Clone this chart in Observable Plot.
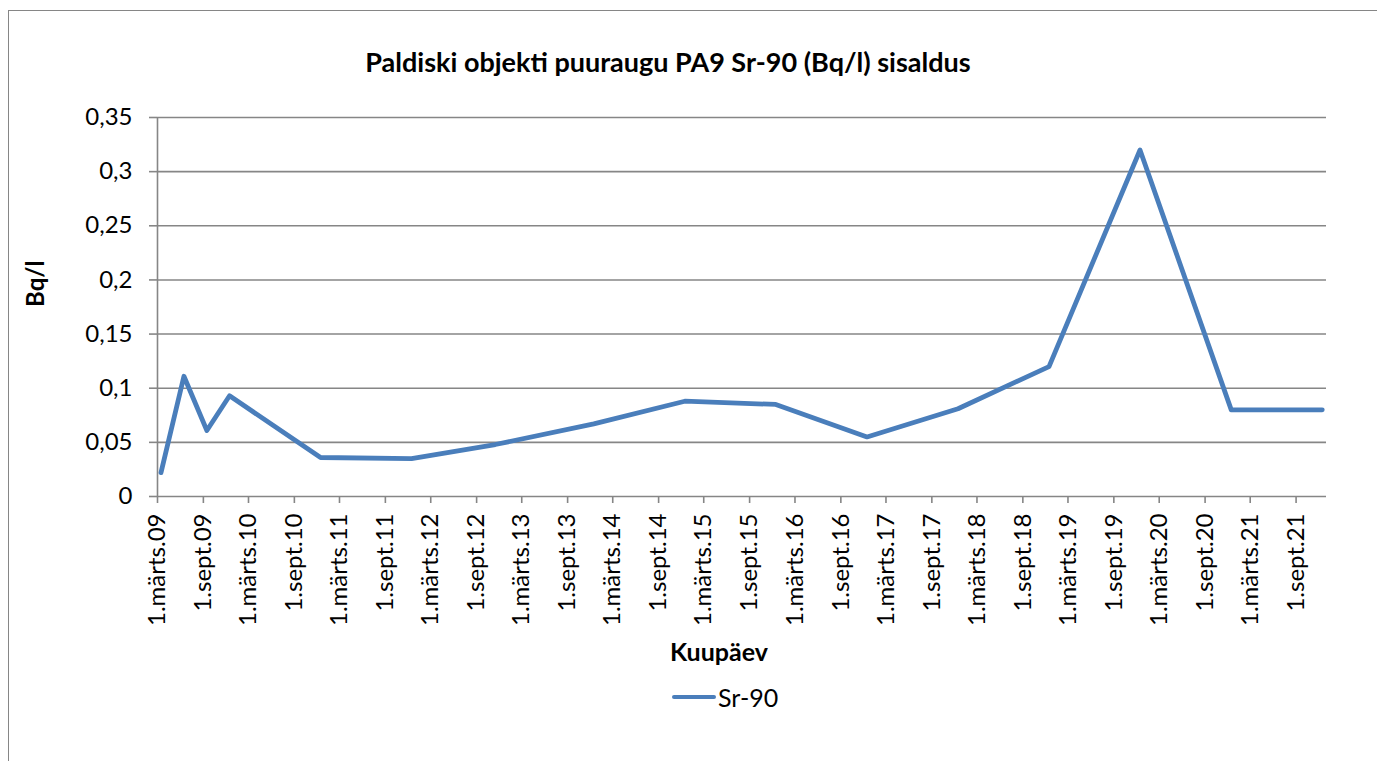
<!DOCTYPE html>
<html>
<head>
<meta charset="utf-8">
<script src="https://cdn.jsdelivr.net/npm/d3@7"></script>
<script src="https://cdn.jsdelivr.net/npm/@observablehq/plot@0.6"></script>
<style>
  html, body { margin: 0; padding: 0; background: #fff; }
  #wrap { position: relative; width: 1377px; height: 761px; overflow: hidden; font-family: Lato, "Open Sans", sans-serif; }
  #border { position: absolute; left: 8px; top: 10px; width: 1500px; height: 900px; border-left: 1.5px solid #868686; border-top: 1.5px solid #868686; }
  #chart { position: absolute; left: 0; top: 0; }
  #title { position: absolute; left: 0; width: 1336px; top: 45px; text-align: center; font-weight: bold; font-size: 27px; color: #000; }
  #legend { position: absolute; left: 672px; top: 682px; display: flex; align-items: center; font-size: 25px; color: #000; }
  #legend .sw { width: 44px; height: 4.8px; background: #4a7ebb; border-radius: 2px; margin-right: 2px; }
</style>
</head>
<body>
<div id="wrap">
  <div id="border"></div>
  <div id="chart"></div>
  <div id="title">Paldiski objekti puuraugu PA9 Sr-90 (Bq/l) sisaldus</div>
  <div id="legend"><div class="sw"></div><span>Sr-90</span></div>
</div>
<script>
// Sampling dates (month placement, centred in month as in the source)
const dates = ["2009-03-15","2009-06-15","2009-09-15","2009-12-15","2010-12-15","2011-12-15","2012-11-15","2013-12-15","2014-12-15","2015-12-15","2016-12-15","2017-12-15","2018-12-15","2019-12-15","2020-12-15","2021-12-15"];
// Sr-90 values, Bq/l
const values = [0.022, 0.111, 0.061, 0.093, 0.036, 0.035, 0.048, 0.067, 0.088, 0.085, 0.055, 0.081, 0.120, 0.320, 0.080, 0.080];
// Y tick values
const yTicks = [0, 0.05, 0.1, 0.15, 0.2, 0.25, 0.3, 0.35];
// Month names for x tick labels
const monthNames = {2: "märts", 8: "sept"};

const data = dates.map((d, i) => ({date: new Date(d), value: values[i]}));
const xStart = new Date("2009-03-01");
const xEnd = new Date("2022-01-01");
const xTicks = d3.utcMonth.range(xStart, new Date("2021-10-01"), 6);
const fmtX = d => `1.${monthNames[d.getUTCMonth()]}.${String(d.getUTCFullYear()).slice(2)}`;
const fmtY = d => String(+d.toFixed(2)).replace(".", ",");

const grid = "#868686";
const chart = Plot.plot({
  width: 1377,
  height: 761,
  marginLeft: 157,
  marginRight: 51,
  marginTop: 117,
  marginBottom: 265,
  style: {fontFamily: "Lato, 'Open Sans', sans-serif", fontSize: "20px", color: "#000", background: "transparent"},
  x: {type: "utc", domain: [xStart, xEnd]},
  y: {domain: [0, 0.35]},
  marks: [
    Plot.gridY(yTicks, {stroke: grid, strokeOpacity: 1, strokeWidth: 1.6}),
    Plot.ruleX([xStart], {stroke: grid, strokeWidth: 1.6}),
    Plot.axisY(yTicks, {tickFormat: fmtY, tickSize: 8, tickPadding: 17, stroke: grid, strokeWidth: 1.6, fill: "#000", fontSize: 24, label: null}),
    Plot.axisX(xTicks, {tickFormat: fmtX, tickRotate: -90, tickSize: 7, tickPadding: 10, stroke: grid, strokeWidth: 1.6, fill: "#000", fontSize: 24, label: null}),
    Plot.line(data, {x: "date", y: "value", stroke: "#4a7ebb", strokeWidth: 4.8, strokeLinejoin: "round", strokeLinecap: "round"}),
    Plot.text(["Bq/l"], {frameAnchor: "left", dx: -121, rotate: -90, text: d => d, fontWeight: "bold", fontSize: 24, fill: "#000"}),
    Plot.text(["Kuupäev"], {frameAnchor: "bottom", dy: 164, dx: -23, text: d => d, fontWeight: "bold", fontSize: 25, fill: "#000"})
  ]
});
document.getElementById("chart").appendChild(chart);
</script>
</body>
</html>
